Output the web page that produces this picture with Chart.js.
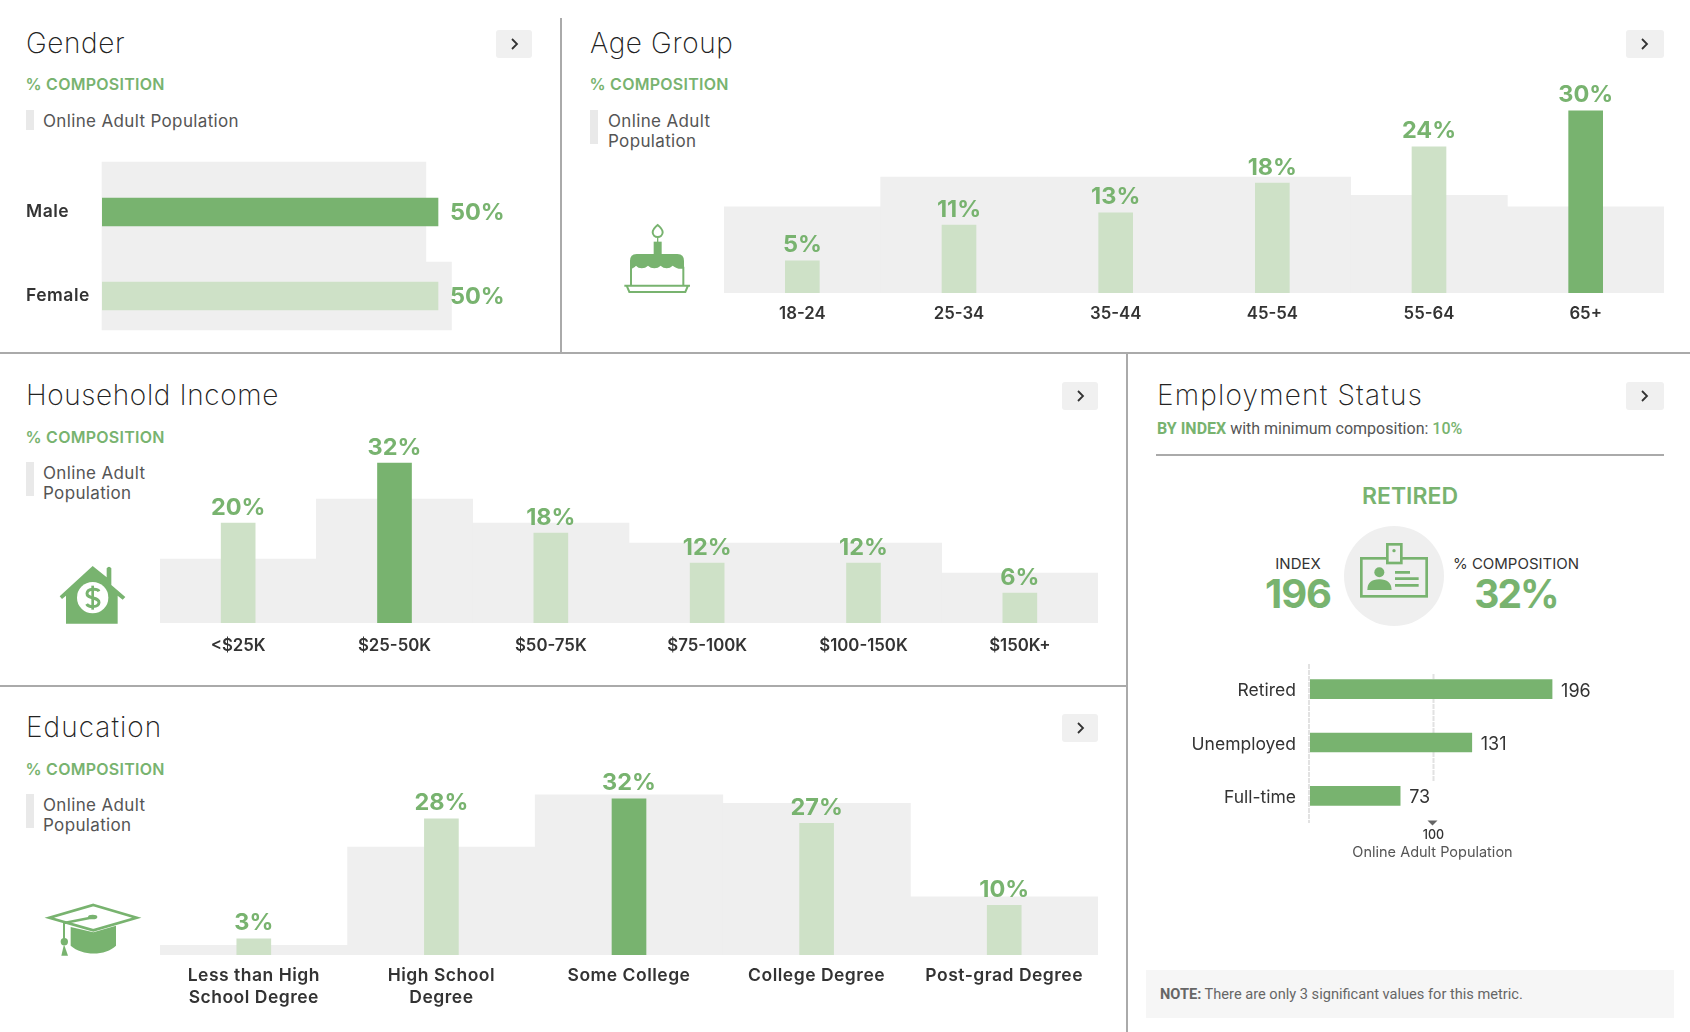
<!DOCTYPE html>
<html><head><meta charset="utf-8">
<script src="https://cdn.jsdelivr.net/npm/chart.js@4"></script>
<style>
html,body{margin:0;padding:0;background:#fff;width:1690px;height:1032px;overflow:hidden}
body{position:relative;font-family:Inter,"Noto Sans",sans-serif;color:#333}
.a{position:absolute;white-space:nowrap}
.rule{position:absolute;background:#aaa}
.title{position:absolute;font-size:28px;font-weight:200;color:#222;line-height:32px;letter-spacing:.6px;white-space:nowrap}
.comp{position:absolute;font-size:16px;font-weight:600;color:#78b36f;line-height:20px;letter-spacing:.25px;white-space:nowrap}
.sw{position:absolute;width:8px;background:#e9e9e9}
.lg{position:absolute;font-size:17px;line-height:20px;color:#555;letter-spacing:.35px;white-space:nowrap}
.btn{position:absolute;width:36px;height:28px;background:#f0f0f0;border-radius:3px}
.btn svg{position:absolute;left:13px;top:8px}
canvas{position:absolute}
svg.ic{position:absolute}
</style></head><body>
<div class="rule" style="left:560px;top:18px;width:2px;height:335px"></div>
<div class="rule" style="left:0;top:352px;width:1690px;height:2px"></div>
<div class="rule" style="left:1126px;top:353px;width:2px;height:679px"></div>
<div class="rule" style="left:0;top:684.5px;width:1126px;height:2px"></div>

<div class="title" style="left:26px;top:27px">Gender</div>
<div class="comp" style="left:25.5px;top:74px">% COMPOSITION</div>
<div class="sw" style="left:26px;top:110px;height:20px"></div>
<div class="lg" style="left:43px;top:111px">Online Adult Population</div>
<div class="btn" style="left:496px;top:30px"><svg width="12" height="12" viewBox="0 0 12 12"><path d="M3 1l5 5-5 5" fill="none" stroke="#333" stroke-width="1.8"/></svg></div>

<div class="title" style="left:590px;top:27px">Age Group</div>
<div class="comp" style="left:589.5px;top:74px">% COMPOSITION</div>
<div class="sw" style="left:590px;top:110px;height:34px"></div>
<div class="lg" style="left:608px;top:111px">Online Adult<br>Population</div>
<div class="btn" style="left:1626px;top:30px;width:38px"><svg width="12" height="12" viewBox="0 0 12 12"><path d="M3 1l5 5-5 5" fill="none" stroke="#333" stroke-width="1.8"/></svg></div>

<div class="title" style="left:26px;top:379px;letter-spacing:.62px">Household Income</div>
<div class="comp" style="left:25.5px;top:427px">% COMPOSITION</div>
<div class="sw" style="left:26px;top:462px;height:34px"></div>
<div class="lg" style="left:43px;top:463px">Online Adult<br>Population</div>
<div class="btn" style="left:1062px;top:382px"><svg width="12" height="12" viewBox="0 0 12 12"><path d="M3 1l5 5-5 5" fill="none" stroke="#333" stroke-width="1.8"/></svg></div>

<div class="title" style="left:26px;top:711px;letter-spacing:1.05px">Education</div>
<div class="comp" style="left:25.5px;top:758.5px">% COMPOSITION</div>
<div class="sw" style="left:26px;top:794px;height:34px"></div>
<div class="lg" style="left:43px;top:795px">Online Adult<br>Population</div>
<div class="btn" style="left:1062px;top:714px"><svg width="12" height="12" viewBox="0 0 12 12"><path d="M3 1l5 5-5 5" fill="none" stroke="#333" stroke-width="1.8"/></svg></div>

<div class="title" style="left:1157px;top:379px;letter-spacing:1.2px">Employment Status</div>
<div class="a" style="left:1157px;top:419px;font:16px/20px Roboto,sans-serif;color:#555"><b style="color:#78b36f;font-weight:700">BY INDEX</b> with minimum composition: <span style="color:#78b36f;font-weight:500">10%</span></div>
<div class="rule" style="left:1156px;top:454px;width:508px;height:2px"></div>
<div class="btn" style="left:1626px;top:382px;width:38px"><svg width="12" height="12" viewBox="0 0 12 12"><path d="M3 1l5 5-5 5" fill="none" stroke="#333" stroke-width="1.8"/></svg></div>

<div class="a" style="left:1310px;width:200px;top:481.5px;text-align:center;font-size:23px;line-height:28px;font-weight:600;color:#78b36f">RETIRED</div>
<div style="position:absolute;left:1344px;top:526px;width:100px;height:100px;border-radius:50%;background:#efefef"></div>
<div class="a" style="left:1238px;width:120px;top:554px;text-align:center;font-size:15px;line-height:20px;color:#333">INDEX</div>
<div class="a" style="left:1238px;width:120px;top:568px;text-align:center;font-size:40px;line-height:52px;font-weight:700;color:#78b36f;letter-spacing:-1px">196</div>
<div class="a" style="left:1436px;width:160px;top:554px;text-align:center;font-size:15px;line-height:20px;color:#333">% COMPOSITION</div>
<div class="a" style="left:1436px;width:160px;top:568px;text-align:center;font-size:39px;line-height:52px;font-weight:700;color:#78b36f;letter-spacing:-2px">32%</div>

<div style="position:absolute;left:1146px;top:970px;width:528px;height:48px;background:#f6f6f6"></div>
<div class="a" style="left:1160px;top:984px;font:14.6px/20px Roboto,sans-serif;color:#666"><b>NOTE:</b> There are only 3 significant values for this metric.</div>

<svg class="ic" style="left:610px;top:215px" width="95" height="85" viewBox="0 0 285 255">
<path d="M143 30c-10 8-15 15-15 22 0 8 7 14 15 14s15-6 15-14c0-7-5-14-15-22z" fill="none" stroke="#78b36f" stroke-width="6"/>
<rect x="131" y="80" width="24" height="38" fill="#78b36f"/><rect x="141" y="66" width="4" height="16" fill="#78b36f"/>
<path d="M60 138q0-21 20-21h122q20 0 20 21v22c-12 4-24 0-34-8-10 10-26 10-36 0-10 10-28 10-38 0-10 10-28 10-36 0-6 6-12 10-18 8z" fill="#78b36f"/>
<path d="M63 155v55M220 155v55" stroke="#78b36f" stroke-width="6" fill="none"/>
<path d="M43 212H240M50 212l8 19H226l8-19" fill="none" stroke="#78b36f" stroke-width="6"/>
</svg>
<svg class="ic" style="left:50px;top:555px" width="90" height="80" viewBox="0 0 270 240">
<path d="M128 33l42 34V40q7-9 14 0v50l42 36-8 8-15-12v84H48v-84l-12 10-7-8z" fill="#78b36f"/>
<circle cx="128" cy="128" r="47" fill="#fff"/>
<path d="M147 109c-4-8-34-10-36 6-2 18 38 10 36 28-2 16-32 14-37 4" fill="none" stroke="#78b36f" stroke-width="9"/>
<path d="M128 92v72" stroke="#78b36f" stroke-width="8"/>
</svg>
<svg class="ic" style="left:40px;top:895px" width="105" height="70" viewBox="0 0 315 210">
<path d="M160 30L290 68 160 106 28 68z" fill="#fff" stroke="#78b36f" stroke-width="8"/>
<path d="M92 96l68 16 68-20v60c-30 30-100 32-136 0z" fill="#78b36f"/>
<path d="M72 84l92-18" stroke="#78b36f" stroke-width="8"/><ellipse cx="158" cy="66" rx="14" ry="7" fill="#78b36f"/>
<path d="M72 84v50" stroke="#78b36f" stroke-width="6"/><circle cx="73" cy="140" r="11" fill="#78b36f"/><path d="M72 148l-8 34h20z" fill="#78b36f"/>
</svg>
<svg class="ic" style="left:1340px;top:525px" width="110" height="90" viewBox="0 0 330 270">
<rect x="64" y="100" width="196" height="114" fill="none" stroke="#78b36f" stroke-width="8"/>
<rect x="142" y="58" width="42" height="56" fill="#efefef" stroke="#78b36f" stroke-width="8"/><circle cx="162" cy="77" r="5" fill="#78b36f"/>
<circle cx="118" cy="142" r="15" fill="#78b36f"/><path d="M82 195q0-32 36-32t37 32z" fill="#78b36f"/>
<path d="M165 142h45M165 161h71M165 181h71" stroke="#78b36f" stroke-width="8" fill="none"/>
</svg>

<canvas id="cGender"></canvas><canvas id="cAge"></canvas><canvas id="cIncome"></canvas><canvas id="cEdu"></canvas><canvas id="cEmp"></canvas>

<script>
const genderCats=['Male','Female'];
const genderValues=[50,50];
const genderPopulation=[48.2,52];
const ageCats=['18-24','25-34','35-44','45-54','55-64','65+'];
const ageValues=[5.3,11.2,13.2,18.1,24.1,30];
const agePopulation=[14.2,19.1,19.1,19.1,16.1,14.2];
const incomeCats=['<$25K','$25-50K','$50-75K','$75-100K','$100-150K','$150K+'];
const incomeValues=[20,32,18,12,12,6];
const incomePopulation=[12.8,24.8,20,16,16,10];
const eduCats=[['Less than High','School Degree'],['High School','Degree'],'Some College','College Degree','Post-grad Degree'];
const eduValues=[3.3,27.9,32,27,10.2];
const eduPopulation=[2,22.1,32.8,31.1,11.9];
const empCats=['Retired','Unemployed','Full-time'];
const empValues=[196,131,73];
const empReference=100;

const DARK='#78b36f',LIGHT='#cee1c7',GRAY='#efefef',LABEL='#78b36f',INK='#333';
const FONT='Inter,"Noto Sans",sans-serif';
Chart.defaults.animation=false;
Chart.defaults.responsive=false;
Chart.defaults.font.family=FONT;

function place(id,l,t,w,h){const c=document.getElementById(id);c.width=w;c.height=h;c.style.left=l+'px';c.style.top=t+'px';c.style.width=w+'px';c.style.height=h+'px';return c;}
function spacing(px){return {id:'spacing',beforeLayout(ch){ch.ctx.letterSpacing=px+'px';},beforeDraw(ch){ch.ctx.letterSpacing=px+'px';}};}

const topLabels={id:'topLabels',afterDatasetsDraw(ch){
  const {ctx}=ch;const m=ch.getDatasetMeta(1);
  ctx.save();ctx.letterSpacing='0px';ctx.font='700 23.5px '+FONT;ctx.fillStyle=LABEL;ctx.textAlign='center';ctx.textBaseline='alphabetic';
  m.data.forEach((b,i)=>ctx.fillText(Math.round(ch.data.datasets[1].data[i])+'%',b.x,b.y-8.5));
  ctx.restore();
}};

function vertical(id,left,right,baseline,plotTop,axisH,pxPerUnit,cats,vals,pop,fontSize,track,pad){
  const W=right-left,H=baseline-plotTop;
  place(id,left,plotTop,W,H+axisH);
  const top=Math.max(...vals);
  new Chart(id,{type:'bar',plugins:[topLabels,spacing(track)],data:{labels:cats,datasets:[
    {data:pop,backgroundColor:GRAY,barPercentage:1,categoryPercentage:1,grouped:false,order:2},
    {data:vals,backgroundColor:vals.map(v=>v===top?DARK:LIGHT),barThickness:34,grouped:false,order:1}
  ]},options:{layout:{padding:0},plugins:{legend:{display:false},tooltip:{enabled:false}},
    scales:{
      x:{grid:{display:false,drawTicks:false},border:{display:false},afterFit(s){s.height=axisH;},
         ticks:{color:INK,font:{size:fontSize,weight:'600',lineHeight:22/fontSize},padding:pad,maxRotation:0,autoSkip:false}},
      y:{display:false,min:0,max:H/pxPerUnit}
    }}});
}
vertical('cAge',724,1664,293,70,50,6.07,ageCats,ageValues,agePopulation,16.8,0,10);
vertical('cIncome',160,1098,623,410,50,5,incomeCats,incomeValues,incomePopulation,16.8,0,12);
vertical('cEdu',160,1098,955,760,70,4.88,eduCats,eduValues,eduPopulation,17.5,.5,10);

/* Gender: horizontal */
place('cGender',26,150,504,200);
new Chart('cGender',{type:'bar',plugins:[spacing(.5),{id:'genderLabels',afterDatasetsDraw(ch){
    const {ctx}=ch;const m=ch.getDatasetMeta(2);
    ctx.save();ctx.letterSpacing='0px';ctx.font='700 23.5px '+FONT;ctx.fillStyle=LABEL;ctx.textBaseline='middle';
    m.data.forEach((b,i)=>ctx.fillText(genderValues[i]+'%',b.x+12,b.y+1));ctx.restore();
  }}],
  data:{labels:genderCats,datasets:[
    {data:[genderPopulation[0],null],backgroundColor:GRAY,barThickness:100,grouped:false,order:3,clip:false},
    {data:[null,genderPopulation[1]],backgroundColor:GRAY,barThickness:68,grouped:false,order:3,clip:false},
    {data:genderValues,backgroundColor:[DARK,LIGHT],barThickness:28,grouped:false,order:1}
  ]},options:{indexAxis:'y',layout:{padding:{top:20,bottom:12}},plugins:{legend:{display:false},tooltip:{enabled:false}},
    scales:{
      x:{display:false,min:0,max:428/6.72},
      y:{grid:{display:false,drawTicks:false},border:{display:false},afterFit(s){s.width=76;},
         ticks:{color:INK,font:{size:17.5,weight:'600'},crossAlign:'far',padding:0,autoSkip:false}}
    }}});

/* Employment: horizontal index bars */
place('cEmp',1146,625,518,241);
new Chart('cEmp',{type:'bar',plugins:[{id:'empExtras',
  beforeDatasetsDraw(ch){
    const {ctx,chartArea:a}=ch;const s=ch.scales.x;
    ctx.save();ctx.strokeStyle='#e2e2e2';ctx.lineWidth=2;ctx.setLineDash([5,1]);
    ctx.beginPath();ctx.moveTo(s.getPixelForValue(0)-1,a.top+1.5);ctx.lineTo(s.getPixelForValue(0)-1,a.bottom+.5);
    const x=s.getPixelForValue(empReference);ctx.moveTo(x,a.top+11.5);ctx.lineTo(x,a.bottom-40.5);ctx.stroke();ctx.restore();
  },
  afterDatasetsDraw(ch){
    const {ctx,chartArea:a}=ch;const s=ch.scales.x;const m=ch.getDatasetMeta(0);
    ctx.save();ctx.font='400 18px '+FONT;ctx.fillStyle=INK;ctx.textBaseline='middle';
    m.data.forEach((b,i)=>ctx.fillText(empValues[i],b.x+9,b.y+2));
    const x=s.getPixelForValue(empReference)-1;
    ctx.fillStyle='#666';ctx.beginPath();ctx.moveTo(x-5,a.bottom-2);ctx.lineTo(x+5,a.bottom-2);ctx.lineTo(x,a.bottom+3);ctx.closePath();ctx.fill();
    ctx.fillStyle='#555';ctx.font='400 14.5px '+FONT;ctx.textAlign='center';ctx.fillText('Online Adult Population',x,a.bottom+30.5);
    ctx.restore();
  }}],
  data:{labels:empCats,datasets:[{data:empValues,backgroundColor:DARK,barThickness:19}]},
  options:{indexAxis:'y',layout:{padding:{top:37.5}},plugins:{legend:{display:false},tooltip:{enabled:false}},
    scales:{
      x:{min:0,max:354/1.235,grid:{display:false,drawTicks:false},border:{display:false},
         afterBuildTicks(s){s.ticks=[{value:empReference}];},afterFit(s){s.height=43.5;},
         ticks:{color:INK,font:{size:12.5,weight:'500'},padding:5,maxRotation:0}},
      y:{grid:{display:false,drawTicks:false},border:{display:false},afterFit(s){s.width=164;},
         ticks:{color:INK,font:{size:17.5},padding:14,autoSkip:false,labelOffset:2}}
    }}});
</script>
</body></html>
